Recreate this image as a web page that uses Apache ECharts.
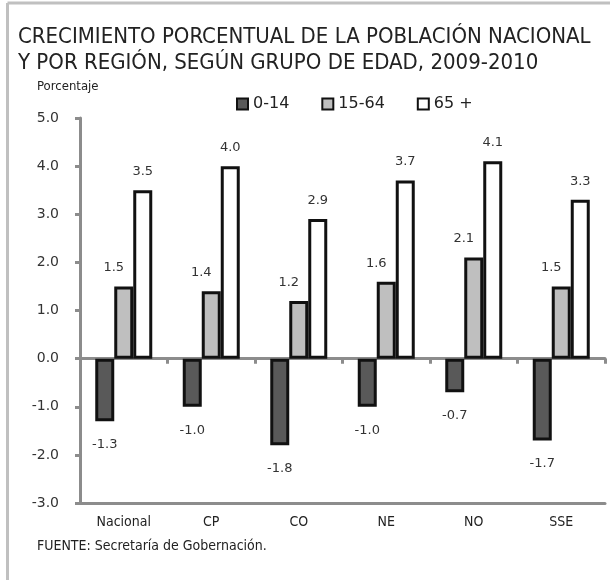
<!DOCTYPE html>
<html>
<head>
<meta charset="utf-8">
<script src="https://cdn.jsdelivr.net/npm/echarts@6/dist/echarts.min.js"></script>
<style>
  html, body { margin: 0; padding: 0; background: #fff; }
  #chart { width: 610px; height: 580px; }
</style>
</head>
<body>
<div id="chart"></div>
<script>
const regiones = ['Nacional', 'CP', 'CO', 'NE', 'NO', 'SSE'];
const grupos = ['0-14', '15-64', '65 +'];
const edad0a14 = [-1.3, -1.0, -1.8, -1.0, -0.7, -1.7];
const edad15a64 = [1.5, 1.4, 1.2, 1.6, 2.1, 1.5];
const edad65mas = [3.5, 4.0, 2.9, 3.7, 4.1, 3.3];

const fontBase = "'Liberation Sans Narrow', 'DejaVu Sans Condensed', 'Noto Sans', sans-serif";
const fontNum = "'DejaVu Sans', sans-serif";

var myChart = echarts.init(document.getElementById('chart'));

function barSerie(name, data, color) {
    return {
        name: name,
        type: 'bar',
        data: data,
        barWidth: 19,
        barGap: '0%',
        itemStyle: { color: color, borderColor: '#111', borderWidth: 3 },
        label: {
            show: true,
            position: 'top',
            distance: 12,
            color: '#333',
            fontFamily: fontNum,
            fontSize: 13,
            formatter: function (p) { return p.value.toFixed(1); }
        }
    };
}

var series = [
    barSerie(grupos[0], edad0a14, '#595959'),
    barSerie(grupos[1], edad15a64, '#bfbfbf'),
    barSerie(grupos[2], edad65mas, '#ffffff')
];
// negative bars: label below
series[0].label.position = 'bottom';
series[0].label.distance = 17;
// labels of the middle group sit a bit to the left in the original
series[1].label.offset = [-10, 0];

var option = {
    animation: false,
    backgroundColor: '#fff',
    graphic: [
        { type: 'line', shape: { x1: 7.5, y1: 3, x2: 610, y2: 3 }, style: { stroke: '#c0c0c0', lineWidth: 3 } },
        { type: 'line', shape: { x1: 7.5, y1: 3, x2: 7.5, y2: 580 }, style: { stroke: '#c0c0c0', lineWidth: 3 } },
        { type: 'text', left: 37, top: 80, style: { text: 'Porcentaje', fill: '#222', font: "13px " + fontBase } },
        { type: 'text', left: 37, top: 539, style: { text: 'FUENTE: Secretaría de Gobernación.', fill: '#222', font: "14px " + fontBase } }
    ],
    title: {
        text: 'CRECIMIENTO PORCENTUAL DE LA POBLACIÓN NACIONAL\nY POR REGIÓN, SEGÚN GRUPO DE EDAD, 2009-2010',
        left: 13,
        top: 19,
        textStyle: { fontFamily: fontBase, fontSize: 22, fontWeight: 'normal', color: '#222', lineHeight: 26 }
    },
    legend: {
        data: grupos,
        left: 231,
        top: 91,
        itemWidth: 11,
        itemHeight: 11,
        itemGap: 32,
        icon: 'rect',
        itemStyle: { borderColor: '#111', borderWidth: 2 },
        textStyle: { fontFamily: fontNum, fontSize: 16, color: '#222' }
    },
    grid: { left: 80, right: 5, top: 118, bottom: 77 },
    xAxis: [
        {
            type: 'category',
            data: regiones,
            axisLine: { onZero: true, lineStyle: { color: '#8c8c8c', width: 3 } },
            axisTick: { show: true, length: 5, lineStyle: { color: '#8c8c8c', width: 3 } },
            axisLabel: { show: false }
        },
        {
            type: 'category',
            data: regiones,
            position: 'bottom',
            axisLine: { onZero: false, lineStyle: { color: '#8c8c8c', width: 3 } },
            axisTick: { show: false },
            axisLabel: { color: '#222', fontFamily: fontBase, fontSize: 14, margin: 12 }
        }
    ],
    yAxis: {
        type: 'value',
        min: -3,
        max: 5,
        interval: 1,
        axisLine: { show: true, lineStyle: { color: '#8c8c8c', width: 3 } },
        axisTick: { show: true, length: 5, lineStyle: { color: '#8c8c8c', width: 3 } },
        splitLine: { show: false },
        axisLabel: {
            color: '#333',
            fontFamily: fontNum,
            fontSize: 14,
            margin: 21,
            formatter: function (v) { return v.toFixed(1); }
        }
    },
    series: series
};

myChart.setOption(option);
</script>
</body>
</html>
